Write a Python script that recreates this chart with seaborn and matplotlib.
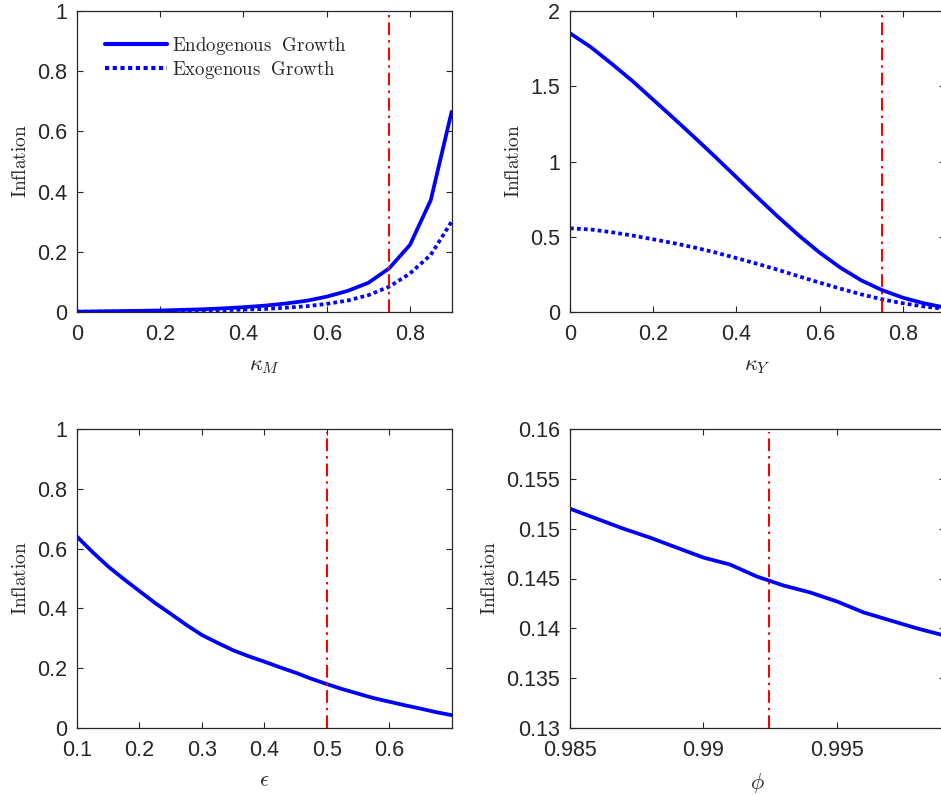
import numpy as np
import pandas as pd
import matplotlib
matplotlib.use("Agg")
import matplotlib.pyplot as plt
from matplotlib.ticker import FuncFormatter
import seaborn as sns

# ---------------- data ----------------
kappa_m = [0.0, 0.05, 0.1, 0.15, 0.2, 0.25, 0.3, 0.35, 0.4, 0.45, 0.5,
           0.55, 0.6, 0.65, 0.7, 0.75, 0.8, 0.85, 0.9]
km_endo = [0.001, 0.002, 0.003, 0.004, 0.005, 0.007, 0.009, 0.012, 0.016, 0.021,
           0.028, 0.037, 0.051, 0.070, 0.097, 0.145, 0.223, 0.372, 0.665]
km_exo = [0.001, 0.001, 0.0015, 0.002, 0.0025, 0.003, 0.004, 0.006, 0.008, 0.010,
          0.014, 0.019, 0.027, 0.038, 0.056, 0.084, 0.128, 0.190, 0.300]

kappa_y = [0.0, 0.05, 0.1, 0.15, 0.2, 0.25, 0.3, 0.35, 0.4, 0.45, 0.5,
           0.55, 0.6, 0.65, 0.7, 0.75, 0.8, 0.85, 0.9]
ky_endo = [1.852, 1.76, 1.65, 1.535, 1.41, 1.285, 1.158, 1.028, 0.895, 0.762, 0.632,
           0.508, 0.394, 0.294, 0.210, 0.145, 0.095, 0.058, 0.03]
ky_exo = [0.556, 0.548, 0.530, 0.508, 0.483, 0.457, 0.428, 0.395, 0.358, 0.320,
          0.280, 0.237, 0.195, 0.155, 0.117, 0.084, 0.058, 0.037, 0.020]

epsilon = [0.1, 0.125, 0.15, 0.175, 0.2, 0.225, 0.25, 0.275, 0.3, 0.325, 0.35,
           0.375, 0.4, 0.425, 0.45, 0.475, 0.5, 0.525, 0.55, 0.575, 0.6,
           0.625, 0.65, 0.675, 0.7]
eps_endo = [0.640, 0.588, 0.540, 0.498, 0.458, 0.418, 0.382, 0.345, 0.311, 0.285,
            0.260, 0.240, 0.222, 0.203, 0.185, 0.165, 0.147, 0.130, 0.115, 0.100,
            0.088, 0.076, 0.065, 0.053, 0.043]

phi = [0.985, 0.986, 0.987, 0.988, 0.989, 0.990, 0.991, 0.992, 0.993, 0.994,
       0.995, 0.996, 0.997, 0.998, 0.999]
phi_endo = [0.1520, 0.1510, 0.1500, 0.1491, 0.1481, 0.1471, 0.1464, 0.1452,
            0.1443, 0.1436, 0.1427, 0.1416, 0.1408, 0.1400, 0.1393]

calib_kappa_m = 0.75
calib_kappa_y = 0.75
calib_eps = 0.5
calib_phi = 0.99244

legend_labels = [r"$\mathrm{Endogenous\ \ Growth}$", r"$\mathrm{Exogenous\ \ Growth}$"]

# ---------------- style ----------------
sns.set_style("ticks")
plt.rcParams["mathtext.fontset"] = "cm"
plt.rcParams["font.family"] = ["Liberation Sans", "DejaVu Sans"]

DARK = "#262626"
BLUE = "#0000ff"
RED = "#ff0000"
LW = 2.7

fig = plt.figure(figsize=(9.41, 7.95), dpi=100)
W = 374.6 / 941
H_top = 301 / 795
H_bot = 299 / 795
ax1 = fig.add_axes([77 / 941, 483 / 795, W, H_top])
ax2 = fig.add_axes([570 / 941, 483 / 795, W, H_top])
ax3 = fig.add_axes([77 / 941, 67 / 795, W, H_bot])
ax4 = fig.add_axes([570 / 941, 67 / 795, W, H_bot])

fmt = FuncFormatter(lambda v, p: f"{v:g}")


def style(ax, xlab, xlim, ylim, xticks, yticks):
    ax.set_xlim(*xlim)
    ax.set_ylim(*ylim)
    ax.set_xticks(xticks)
    ax.set_yticks(yticks)
    ax.xaxis.set_major_formatter(fmt)
    ax.yaxis.set_major_formatter(fmt)
    ax.tick_params(direction="in", top=True, right=True, length=4, width=0.8,
                   colors=DARK, labelsize=15.5)
    ax.tick_params(axis="x", pad=8.5)
    ax.tick_params(axis="y", pad=7)
    for s in ax.spines.values():
        s.set_visible(True)
        s.set_color(DARK)
        s.set_linewidth(0.9)
    ax.set_xlabel(xlab, fontsize=16, color=DARK, labelpad=7)
    ax.set_ylabel(r"$\mathrm{Inflation}$", fontsize=14, color=DARK, labelpad=5)


def vline(ax, x, ylim, top_frac=1.0):
    ax.plot([x, x], [ylim[0], ylim[0] + (ylim[1] - ylim[0]) * top_frac],
            color=RED, lw=1.45, dashes=(6.3, 2.5, 1.2, 2.5), zorder=3)


# panel 1
df1 = pd.DataFrame({"x": kappa_m + kappa_m,
                    "y": km_endo + km_exo,
                    "s": [legend_labels[0]] * len(kappa_m) + [legend_labels[1]] * len(kappa_m)})
sns.lineplot(data=df1, x="x", y="y", hue="s", style="s",
             palette=[BLUE, BLUE], dashes=[(), (1.0, 0.85)], lw=LW, ax=ax1,
             estimator=None, sort=False)
style(ax1, r"$\kappa_M$", (0, 0.9), (0, 1), [0, 0.2, 0.4, 0.6, 0.8],
      [0, 0.2, 0.4, 0.6, 0.8, 1])
vline(ax1, calib_kappa_m, (0, 1))
leg = ax1.legend(loc="upper left", bbox_to_anchor=(0.075, 0.92), frameon=False,
                 fontsize=13.6, handlelength=3.3, handletextpad=0.25,
                 labelspacing=0.1, borderpad=0, borderaxespad=0)
for l in leg.get_lines():
    l.set_linewidth(LW + 0.3)

# panel 2
df2 = pd.DataFrame({"x": kappa_y + kappa_y,
                    "y": ky_endo + ky_exo,
                    "s": [legend_labels[0]] * len(kappa_y) + [legend_labels[1]] * len(kappa_y)})
sns.lineplot(data=df2, x="x", y="y", hue="s", style="s",
             palette=[BLUE, BLUE], dashes=[(), (1.0, 0.85)], lw=LW, ax=ax2,
             estimator=None, sort=False, legend=False)
style(ax2, r"$\kappa_Y$", (0, 0.9), (0, 2), [0, 0.2, 0.4, 0.6, 0.8],
      [0, 0.5, 1, 1.5, 2])
vline(ax2, calib_kappa_y, (0, 2))

# panel 3
df3 = pd.DataFrame({"x": epsilon, "y": eps_endo})
sns.lineplot(data=df3, x="x", y="y", color=BLUE, lw=LW, ax=ax3, estimator=None)
style(ax3, r"$\epsilon$", (0.1, 0.7), (0, 1), [0.1, 0.2, 0.3, 0.4, 0.5, 0.6],
      [0, 0.2, 0.4, 0.6, 0.8, 1])
vline(ax3, calib_eps, (0, 1), 0.99)

# panel 4
df4 = pd.DataFrame({"x": phi, "y": phi_endo})
sns.lineplot(data=df4, x="x", y="y", color=BLUE, lw=LW, ax=ax4, estimator=None)
style(ax4, r"$\phi$", (0.985, 0.99904), (0.13, 0.16), [0.985, 0.99, 0.995],
      [0.13, 0.135, 0.14, 0.145, 0.15, 0.155, 0.16])
vline(ax4, calib_phi, (0.13, 0.16), 0.99)

fig.savefig("out.png", dpi=100)
